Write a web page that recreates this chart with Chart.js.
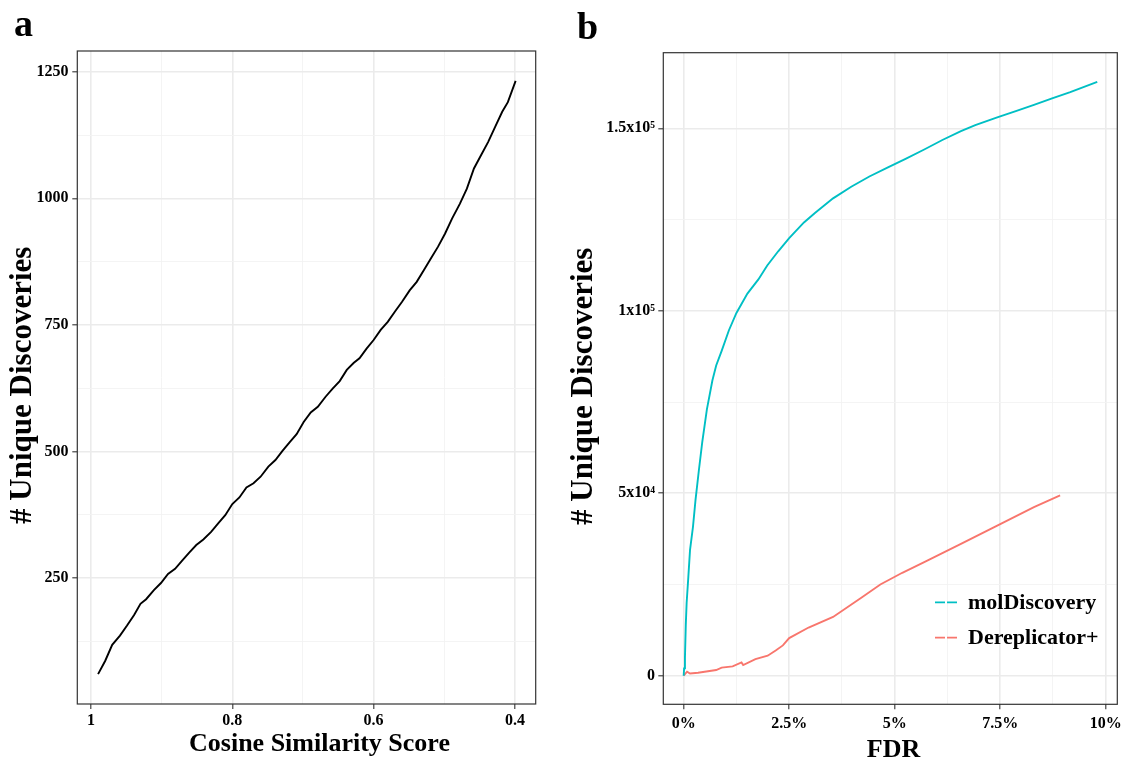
<!DOCTYPE html>
<html>
<head>
<meta charset="utf-8">
<script src="https://cdn.jsdelivr.net/npm/chart.js@4.4.1/dist/chart.umd.min.js"></script>
<style>
  html, body { margin: 0; padding: 0; background: #fff; overflow: hidden; }
  #wrap { position: relative; width: 1131px; height: 760px; overflow: hidden; }
  #chartA { position: absolute; left: 0; top: 0; }
  #chartB { position: absolute; left: 560px; top: 0; }
</style>
</head>
<body>
<div id="wrap">
  <canvas id="chartA" width="560" height="780"></canvas>
  <canvas id="chartB" width="571" height="780"></canvas>
</div>
<script>
// ---- panel a : unique discoveries vs cosine similarity ----
const cosineScore = [0.990, 0.980, 0.970, 0.959, 0.949, 0.939, 0.930, 0.922, 0.911, 0.901,
  0.891, 0.881, 0.871, 0.861, 0.851, 0.841, 0.830, 0.820, 0.810, 0.800,
  0.790, 0.780, 0.770, 0.760, 0.749, 0.739, 0.729, 0.719, 0.709, 0.699,
  0.689, 0.679, 0.668, 0.658, 0.648, 0.638, 0.628, 0.620, 0.610, 0.600,
  0.590, 0.580, 0.570, 0.560, 0.549, 0.539, 0.529, 0.519, 0.509, 0.499,
  0.489, 0.478, 0.468, 0.458, 0.448, 0.438, 0.428, 0.418, 0.410, 0.399];
const uniqueA = [60, 86, 118, 136, 156, 177, 199, 208, 226, 240,
  258, 268, 284, 300, 315, 326, 341, 358, 374, 396,
  409, 429, 437, 450, 470, 483, 501, 518, 534, 558,
  577, 588, 608, 624, 639, 661, 675, 684, 703, 720,
  740, 756, 776, 795, 818, 835, 858, 881, 904, 930,
  960, 989, 1019, 1059, 1085, 1111, 1141, 1171, 1190, 1232];
const xTicksA = [1, 0.9, 0.8, 0.7, 0.6, 0.5, 0.4];
const xLabelsA = ['1', '', '0.8', '', '0.6', '', '0.4'];
const yTicksA = [125, 250, 375, 500, 625, 750, 875, 1000, 1125, 1250];
const yLabelsA = ['', '250', '', '500', '', '750', '', '1000', '', '1250'];

// ---- panel b : unique discoveries vs FDR (%) ----
const fdrMol = [0, 0.01, 0.03, 0.05, 0.07, 0.11, 0.15, 0.22, 0.28, 0.36,
  0.44, 0.55, 0.68, 0.77, 0.90, 1.07, 1.25, 1.51, 1.77, 1.98,
  2.24, 2.50, 2.85, 3.11, 3.54, 3.97, 4.40, 4.84, 5.27, 5.70,
  6.13, 6.57, 6.91, 7.43, 7.87, 8.30, 8.73, 9.16, 9.80];
const molDiscovery = [0, 2000, 5000, 14000, 20000, 27000, 34400, 40800, 48100, 56300,
  64000, 73000, 80900, 85000, 89000, 94600, 99400, 104700, 108600, 112400,
  116300, 119900, 124200, 126800, 130800, 134000, 136800, 139300, 141700, 144200,
  146800, 149200, 150900, 153000, 154700, 156400, 158200, 159900, 162700];
const fdrDerep = [0, 0.08, 0.15, 0.34, 0.77, 0.90, 1.16, 1.37, 1.41, 1.70,
  1.99, 2.18, 2.35, 2.50, 2.96, 3.54, 4.20, 4.66, 5.18, 5.70,
  6.57, 7.43, 8.30, 8.92];
const dereplicator = [0, 1100, 600, 800, 1550, 2200, 2550, 3650, 2930, 4520,
  5480, 6900, 8300, 10300, 13200, 16100, 21300, 25000, 28200, 31100,
  36100, 41100, 46200, 49400];
const xTicksB = [0, 1.25, 2.5, 3.75, 5, 6.25, 7.5, 8.75, 10];
const xLabelsB = ['0%', '', '2.5%', '', '5%', '', '7.5%', '', '10%'];
const yTicksB = [0, 25000, 50000, 75000, 100000, 125000, 150000];
const yLabelsB = ['0', '', '5x10\u2074', '', '1x10\u2075', '', '1.5x10\u2075'];

const seriesNames = ['molDiscovery', 'Dereplicator+'];
const seriesColors = ['#00BFC4', '#F8766D'];

const SERIF = "'Liberation Serif', 'Times New Roman', serif";
const GRID = '#ebebeb';
const INK = '#333333';

// builds one ggplot-like axis: major ticks have a label, minor only a thin grid line
function makeAxis(ticks, labels, o) {
  const isMajor = (v) => labels[ticks.indexOf(v)] !== '';
  return {
    type: 'linear',
    position: o.position,
    min: o.min,
    max: o.max,
    reverse: !!o.reverse,
    afterBuildTicks: (axis) => { axis.ticks = ticks.map(v => ({ value: v })); },
    afterFit: (axis) => {
      if (o.position === 'left') axis.width = o.size; else axis.height = o.size;
    },
    border: { display: false },
    grid: {
      color: (c) => (c.tick && isMajor(c.tick.value)) ? GRID : '#f3f3f3',
      lineWidth: (c) => (c.tick && isMajor(c.tick.value)) ? 1.6 : 0.9,
      tickColor: (c) => (c.tick && isMajor(c.tick.value)) ? INK : 'rgba(0,0,0,0)',
      tickWidth: 1.1,
      tickLength: 5
    },
    ticks: {
      autoSkip: false,
      maxRotation: 0,
      padding: o.tickPad,
      color: '#000',
      font: { family: SERIF, size: 16, weight: 'bold' },
      callback: (v) => labels[ticks.indexOf(v)] ?? ''
    },
    title: {
      display: true,
      text: o.title,
      color: '#000',
      font: { family: SERIF, size: o.titleSize, weight: 'bold', lineHeight: 1.2 },
      padding: o.titlePad
    }
  };
}

// full frame round the panel
const panelBox = {
  id: 'panelBox',
  afterDatasetsDraw(chart) {
    const { ctx, chartArea: a } = chart;
    ctx.save();
    ctx.strokeStyle = INK;
    ctx.lineWidth = 1.2;
    ctx.strokeRect(a.left, a.top, a.right - a.left, a.bottom - a.top);
    ctx.restore();
  }
};

// panel letter (a / b)
const panelTag = {
  id: 'panelTag',
  afterDraw(chart, args, o) {
    const ctx = chart.ctx;
    ctx.save();
    ctx.font = 'bold 38px ' + SERIF;
    ctx.fillStyle = '#000';
    ctx.textBaseline = 'alphabetic';
    ctx.fillText(o.text, o.x, o.y);
    ctx.restore();
  }
};

// legend drawn inside the plot, bottom right
const insideLegend = {
  id: 'insideLegend',
  afterDatasetsDraw(chart, args, o) {
    if (!o.show) return;
    const { ctx, chartArea: a } = chart;
    ctx.save();
    ctx.font = 'bold 22px ' + SERIF;
    ctx.textBaseline = 'alphabetic';
    chart.data.datasets.forEach((ds, i) => {
      const x = a.right - o.right;
      const y = a.bottom - o.bottom + i * o.gap;
      ctx.strokeStyle = ds.borderColor;
      ctx.lineWidth = 1.8;
      ctx.setLineDash([10, 2]);
      ctx.beginPath();
      ctx.moveTo(x, y);
      ctx.lineTo(x + 22, y);
      ctx.stroke();
      ctx.setLineDash([]);
      ctx.fillStyle = '#000';
      ctx.fillText(ds.label, x + 33, y + 6.5);
    });
    ctx.restore();
  }
};

const lineStyle = { pointRadius: 0, borderWidth: 1.9, tension: 0, fill: false };

// trailing / leading blanks nudge the centred titles the way the original sits
const yTitle = '# Unique Discoveries  ';

new Chart(document.getElementById('chartA'), {
  type: 'line',
  data: {
    datasets: [{
      label: '# Unique Discoveries',
      data: cosineScore.map((x, i) => ({ x: x, y: uniqueA[i] })),
      borderColor: '#000',
      ...lineStyle
    }]
  },
  options: {
    responsive: false,
    animation: false,
    devicePixelRatio: 1,
    layout: { padding: { top: 51, right: 24.3, left: 0, bottom: 0 } },
    plugins: {
      legend: { display: false },
      tooltip: { enabled: false },
      panelTag: { text: 'a', x: 14, y: 36 },
      insideLegend: { show: false }
    },
    scales: {
      x: makeAxis(xTicksA, xLabelsA, {
        position: 'bottom', min: 0.3706, max: 1.0194, reverse: true, size: 76,
        tickPad: 2, title: '    Cosine Similarity Score', titleSize: 26,
        titlePad: { top: 0, bottom: 20.4 }
      }),
      y: makeAxis(yTicksA, yLabelsA, {
        position: 'left', min: 1, max: 1291, size: 77.3,
        tickPad: 3.7, title: yTitle, titleSize: 31,
        titlePad: { top: 4, bottom: 0 }
      })
    }
  },
  plugins: [panelBox, panelTag, insideLegend]
});

new Chart(document.getElementById('chartB'), {
  type: 'line',
  data: {
    datasets: [
      {
        label: seriesNames[0],
        data: fdrMol.map((x, i) => ({ x: x, y: molDiscovery[i] })),
        borderColor: seriesColors[0],
        ...lineStyle
      },
      {
        label: seriesNames[1],
        data: fdrDerep.map((x, i) => ({ x: x, y: dereplicator[i] })),
        borderColor: seriesColors[1],
        ...lineStyle
      }
    ]
  },
  options: {
    responsive: false,
    animation: false,
    devicePixelRatio: 1,
    layout: { padding: { top: 52.7, right: 13.7, left: 0, bottom: 0 } },
    plugins: {
      legend: { display: false },
      tooltip: { enabled: false },
      panelTag: { text: 'b', x: 17, y: 39 },
      insideLegend: { show: true, right: 182.3, bottom: 102, gap: 35.4 }
    },
    scales: {
      x: makeAxis(xTicksB, xLabelsB, {
        position: 'bottom', min: -0.483, max: 10.275, size: 75.7,
        tickPad: 5.4, title: ' FDR', titleSize: 26,
        titlePad: { top: 0, bottom: 14 }
      }),
      y: makeAxis(yTicksB, yLabelsB, {
        position: 'left', min: -7840, max: 170720, size: 103.3,
        tickPad: 3.3, title: yTitle, titleSize: 31,
        titlePad: { top: 5.5, bottom: 0 }
      })
    }
  },
  plugins: [panelBox, panelTag, insideLegend]
});
</script>
</body>
</html>
